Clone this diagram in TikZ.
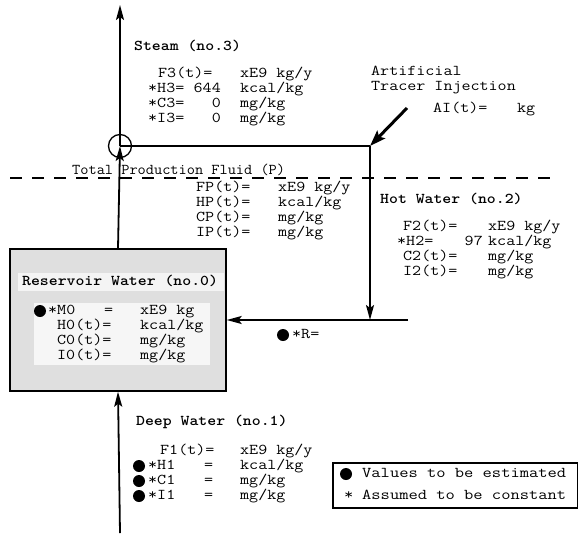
\documentclass[tikz,border=0pt]{standalone}
\usepackage{fontspec}
\usepackage{graphicx}
\usetikzlibrary{arrows.meta}
\newcommand{\hs}[2][1.17]{\scalebox{#1}[1]{#2}}
\begin{document}
\begin{tikzpicture}[x=1pt,y=-1pt,
  txt/.style={anchor=west,inner sep=0pt,text height=10pt,text depth=3pt,font=\ttfamily\fontsize{15}{15}\selectfont},
  txte/.style={txt,anchor=east},
  ttl/.style={txt,font=\ttfamily\bfseries\fontsize{15}{15}\selectfont},
  dot/.style={circle,fill=black,inner sep=0pt,minimum size=12pt},
  flow/.style={line width=1.8pt,-{Stealth[length=15pt,width=8pt,inset=3pt]}},
  plain/.style={line width=1.8pt}]
\useasboundingbox (0,0) rectangle (578,533);

% coordinates
\coordinate (top) at (120,5);
\coordinate (bot) at (120,533);
\coordinate (K) at (370,146);
\coordinate (K2) at (370,320);
\coordinate (E) at (408,320);
\coordinate (tr) at (407,108);
\coordinate (d1) at (10,178);
\coordinate (d2) at (552,178);

% reservoir box
\node[draw,line width=1.4pt,fill=gray!25,minimum width=216pt,minimum height=142pt,inner sep=0pt] (res) at (118,320) {};
\node[fill=gray!7,minimum width=176pt,minimum height=62pt,inner sep=0pt] (inner) at (122,334) {};
\node[fill=gray!9,minimum width=206pt,minimum height=18pt,inner sep=0pt] (tband) at (121,282) {};

% junction
\node[circle,draw,line width=1.3pt,minimum size=23pt,inner sep=0pt] (J) at (120,146) {};

% dashed line
\draw[line width=1.5pt,dash pattern=on 12pt off 10pt] (d1) -- (d2);

% connectors
\draw[flow] (res.north) -- (J.center);
\draw[flow] (J.center) -- (top);
\draw[plain] (J.center) -- (K);
\draw[flow] (K) -- (K2);
\draw[flow] (E) -- (res.east);
\draw[flow] (bot) -- (res.south);
\draw[line width=3pt,-{Stealth[length=16pt,width=11pt,inset=3pt]}] (tr) -- (K);

% Steam
\node[ttl] (st) at (134,47) {\hs[1.13]{Steam (no.3)}};
\node[txt] (f3) at (158,74) {\hs{F3(t)=}};
\node[txt] (f3v) at (240,74) {\hs{xE9 kg/y}};
\node[txt] (h3) at (148,89) {\hs{*H3=}};
\node[txte] (h3n) at (221,89) {\hs{644}};
\node[txt] (h3v) at (240,89) {\hs{kcal/kg}};
\node[txt] (c3) at (148,104) {\hs{*C3=}};
\node[txte] (c3n) at (221,104) {\hs{0}};
\node[txt] (c3v) at (240,104) {\hs{mg/kg}};
\node[txt] (i3) at (148,119) {\hs{*I3=}};
\node[txte] (i3n) at (221,119) {\hs{0}};
\node[txt] (i3v) at (240,119) {\hs{mg/kg}};

% tracer
\node[txt] (ar1) at (371,72) {\hs{Artificial}};
\node[txt] (ar2) at (371,87) {\hs{Tracer Injection}};
\node[txt] (ai) at (433,109) {\hs{AI(t)=}};
\node[txt] (aiv) at (517,109) {\hs{kg}};

% total production
\node[txt] (tp) at (72,171) {\hs[1.06]{Total Production Fluid (P)}};
\node[txt] (fp) at (196,188) {\hs{FP(t)=}};
\node[txt] (fpv) at (278,188) {\hs{xE9 kg/y}};
\node[txt] (hp) at (196,203) {\hs{HP(t)=}};
\node[txt] (hpv) at (278,203) {\hs{kcal/kg}};
\node[txt] (cp) at (196,218) {\hs{CP(t)=}};
\node[txt] (cpv) at (278,218) {\hs{mg/kg}};
\node[txt] (ip) at (196,233) {\hs{IP(t)=}};
\node[txt] (ipv) at (278,233) {\hs{mg/kg}};

% hot water
\node[ttl] (hw) at (380,200) {\hs[1.13]{Hot Water (no.2)}};
\node[txt] (f2) at (403,227) {\hs{F2(t)=}};
\node[txt] (f2v) at (488,227) {\hs{xE9 kg/y}};
\node[txt] (h2) at (397,242) {\hs{*H2=}};
\node[txte] (h2n) at (483,242) {\hs{97}};
\node[txt] (h2v) at (488,242) {\hs{kcal/kg}};
\node[txt] (c2) at (403,257) {\hs{C2(t)=}};
\node[txt] (c2v) at (488,257) {\hs{mg/kg}};
\node[txt] (i2) at (403,272) {\hs{I2(t)=}};
\node[txt] (i2v) at (488,272) {\hs{mg/kg}};

% reservoir
\node[ttl] (rw) at (22,282) {\hs[1.13]{Reservoir Water (no.0)}};
\node[dot] (bm) at (40,311) {};
\node[txt] (m0) at (48,311) {\hs{*M0}};
\node[txt] (m0e) at (104,311) {\hs{=}};
\node[txt] (m0v) at (140,311) {\hs{xE9 kg}};
\node[txt] (h0) at (57,326) {\hs{H0(t)=}};
\node[txt] (h0v) at (140,326) {\hs{kcal/kg}};
\node[txt] (c0) at (57,341) {\hs{C0(t)=}};
\node[txt] (c0v) at (140,341) {\hs{mg/kg}};
\node[txt] (i0) at (57,356) {\hs{I0(t)=}};
\node[txt] (i0v) at (140,356) {\hs{mg/kg}};

% R
\node[dot] (br) at (283,335) {};
\node[txt] (rr) at (292,335) {\hs{*R=}};

% deep water
\node[ttl] (dw) at (136,422) {\hs[1.13]{Deep Water (no.1)}};
\node[txt] (f1) at (160,451) {\hs{F1(t)=}};
\node[txt] (f1v) at (240,451) {\hs{xE9 kg/y}};
\node[dot] (bh1) at (139,466) {};
\node[txt] (h1) at (148,466) {\hs{*H1}};
\node[txt] (h1e) at (204,466) {\hs{=}};
\node[txt] (h1v) at (240,466) {\hs{kcal/kg}};
\node[dot] (bc1) at (139,481) {};
\node[txt] (c1) at (148,481) {\hs{*C1}};
\node[txt] (c1e) at (204,481) {\hs{=}};
\node[txt] (c1v) at (240,481) {\hs{mg/kg}};
\node[dot] (bi1) at (139,496) {};
\node[txt] (i1) at (148,496) {\hs{*I1}};
\node[txt] (i1e) at (204,496) {\hs{=}};
\node[txt] (i1v) at (240,496) {\hs{mg/kg}};

% legend
\node[draw,line width=1.2pt,minimum width=245pt,minimum height=45pt,inner sep=0pt] (leg) at (455.5,485.5) {};
\node[dot] (lb) at (346,474) {};
\node[txt] (l1) at (362,474) {\hs[1.2]{Values to be estimated}};
\node[txt] (ls) at (344,496) {\hs[1.2]{*}};
\node[txt] (l2) at (362,496) {\hs[1.2]{Assumed to be constant}};
\end{tikzpicture}
\end{document}
